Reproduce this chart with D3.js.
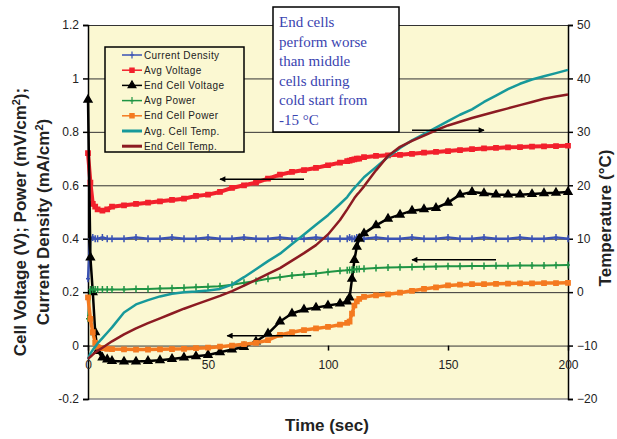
<!DOCTYPE html>
<html>
<head>
<meta charset="utf-8">
<script src="https://cdn.jsdelivr.net/npm/d3@7"></script>
<style>
  body { margin: 0; background: #fff; }
  text { font-family: "Liberation Sans", Arial, sans-serif; }
</style>
</head>
<body>
<svg id="chart" width="617" height="439"></svg>
<script>
// ------------------------------------------------------
// DATA
// ------------------------------------------------------

var time = [0, 1, 2, 3, 4, 6, 8, 10,
    15, 20, 25, 30, 35, 40, 45, 50, 55, 60, 65, 70, 75, 80, 85, 90, 95, 100, 105,
    108, 109, 110, 111, 112, 113,
    115, 120, 125, 130, 135, 140, 145, 150, 155, 160, 165, 170, 175, 180, 185, 190, 195, 200];

var currentDensity = [0.25, 0.40, 0.405, 0.40, 0.40, 0.405, 0.40, 0.40,
    0.40, 0.405, 0.40, 0.40, 0.405, 0.40, 0.40, 0.405, 0.40, 0.40, 0.405, 0.40, 0.40, 0.405, 0.40, 0.40, 0.405, 0.40, 0.40,
    0.40, 0.405, 0.40, 0.40, 0.405, 0.40,
    0.40, 0.405, 0.40, 0.40, 0.405, 0.40, 0.40, 0.405, 0.40, 0.40, 0.405, 0.40, 0.40, 0.405, 0.40, 0.40, 0.405, 0.40];

var avgVoltage = [0.72, 0.61, 0.53, 0.52, 0.51, 0.505, 0.51, 0.52,
    0.525, 0.53, 0.535, 0.54, 0.545, 0.55, 0.56, 0.565, 0.575, 0.59, 0.60, 0.61, 0.625, 0.64, 0.65, 0.657, 0.665, 0.675, 0.685,
    0.69, 0.692, 0.695, 0.697, 0.70, 0.70,
    0.705, 0.71, 0.712, 0.714, 0.718, 0.722, 0.725, 0.728, 0.732, 0.735, 0.738, 0.74, 0.742, 0.743, 0.745, 0.746, 0.747, 0.748];

var endCellVoltage = [0.92, 0.33, 0.20, 0.05, -0.02, -0.045, -0.052, -0.058,
    -0.06, -0.06, -0.058, -0.055, -0.05, -0.045, -0.04, -0.035, -0.025, -0.015, -0.005, 0.015, 0.045, 0.09, 0.12, 0.135, 0.142, 0.15, 0.157,
    0.165, 0.18, 0.25, 0.32, 0.37, 0.40,
    0.42, 0.45, 0.475, 0.49, 0.505, 0.51, 0.515, 0.535, 0.565, 0.575, 0.57, 0.565, 0.565, 0.565, 0.567, 0.57, 0.572, 0.575];

var avgPower = [0.10, 0.21, 0.21, 0.21, 0.21, 0.21, 0.21, 0.21,
    0.21, 0.212, 0.212, 0.214, 0.215, 0.216, 0.218, 0.22, 0.222, 0.228, 0.235, 0.242, 0.25, 0.256, 0.262, 0.266, 0.27, 0.275, 0.28,
    0.282, 0.283, 0.284, 0.285, 0.286, 0.287,
    0.288, 0.29, 0.292, 0.293, 0.294, 0.295, 0.296, 0.297, 0.297, 0.298, 0.298, 0.299, 0.299, 0.30, 0.30, 0.30, 0.301, 0.302];

var endCellPower = [0.18, 0.10, 0.05, 0.01, -0.005, -0.01, -0.012, -0.013,
    -0.014, -0.015, -0.015, -0.014, -0.013, -0.012, -0.01, -0.008, -0.004, 0.0, 0.005, 0.01, 0.02, 0.04, 0.05, 0.058, 0.064, 0.07, 0.078,
    0.085, 0.09, 0.12, 0.15, 0.165, 0.175,
    0.182, 0.188, 0.192, 0.198, 0.205, 0.212, 0.218, 0.225, 0.228, 0.23, 0.23, 0.231, 0.232, 0.233, 0.233, 0.234, 0.234, 0.235];

// temperatures in °C, right axis
var avgCellTemp = [-12.5, -11.5, -10.8, -10.2, -9.6, -8.6, -7.6, -6.6,
    -3.8, -2.3, -1.5, -0.8, -0.3, 0, 0.1, 0.3, 0.6, 1.4, 2.8, 4.3, 5.8, 7.2, 9, 10.8, 12.6, 14.4, 16.5,
    17.8, 18.4, 19, 19.5, 20, 20.5,
    21.5, 23.4, 25.3, 27, 28.4, 29.6, 30.8, 32, 33.2, 34.2, 35.6, 36.8, 38, 39, 39.8, 40.4, 41, 41.6];

var endCellTemp = [-12.5, -12.1, -11.7, -11.3, -11.0, -10.4, -9.8, -9.2,
    -7.9, -6.8, -5.8, -4.9, -4.0, -3.1, -2.3, -1.5, -0.7, 0.2, 1.2, 2.3, 3.4, 4.5, 5.9, 7.3, 8.8, 10.8, 13.5,
    15.5, 16.2, 16.9, 17.6, 18.2, 18.7,
    19.8, 22.8, 25.5, 27.2, 28.3, 29.3, 30.3, 31.2, 31.9, 32.6, 33.2, 33.8, 34.4, 35.0, 35.6, 36.2, 36.6, 37.0];

var leftTicks = [-0.2, 0, 0.2, 0.4, 0.6, 0.8, 1, 1.2];
var rightTicks = [-20, -10, 0, 10, 20, 30, 40, 50];
var timeTicks = [0, 50, 100, 150, 200];

var noteLines = ["End cells", "perform worse", "than middle", "cells during", "cold start from", "-15 \u00b0C"];

// arrows in chart units: from t0 to t1 at value v (left axis)
var arrows = [
    {t0: 90, t1: 55, v: 0.623},
    {t0: 135, t1: 165, v: 0.806},
    {t0: 170, t1: 135, v: 0.321},
    {t0: 93, t1: 58, v: 0.037}
];

// ------------------------------------------------------
// SETUP
// ------------------------------------------------------

var svg = d3.select("#chart");
var plotLeft = 88, plotRight = 568, plotTop = 25, plotBottom = 399;
var bg = "#fbf8d2";

var x = d3.scaleLinear().domain([0, 200]).range([plotLeft, plotRight]);
var yL = d3.scaleLinear().domain([-0.2, 1.2]).range([plotBottom, plotTop]);
var yR = d3.scaleLinear().domain([-20, 50]).range([plotBottom, plotTop]);

var series = [
    {name: "Current Density", values: currentDensity, color: "#3a52b4", width: 2.5, marker: "plus", axis: yL},
    {name: "Avg Voltage", values: avgVoltage, color: "#f2202c", width: 4, marker: "square", axis: yL},
    {name: "End Cell Voltage", values: endCellVoltage, color: "#000", width: 2.5, marker: "triangle", axis: yL},
    {name: "Avg Power", values: avgPower, color: "#1f9444", width: 2, marker: "plus", axis: yL},
    {name: "End Cell Power", values: endCellPower, color: "#f47a20", width: 3.5, marker: "square", axis: yL},
    {name: "Avg. Cell Temp.", values: avgCellTemp, color: "#17999a", width: 2.5, marker: null, axis: yR},
    {name: "End Cell Temp.", values: endCellTemp, color: "#8c1b22", width: 2.5, marker: null, axis: yR}
];

// plot background
svg.append("rect")
    .attr("x", plotLeft).attr("y", plotTop)
    .attr("width", plotRight - plotLeft).attr("height", plotBottom - plotTop)
    .attr("fill", bg);

// gridlines
svg.append("g")
    .attr("transform", "translate(" + plotLeft + ",0)")
    .call(d3.axisLeft(yL).tickValues(leftTicks.slice(1)).tickSize(-(plotRight - plotLeft)).tickFormat(""))
    .call(function (g) { g.select(".domain").remove(); })
    .selectAll("line").attr("stroke", "#333").attr("stroke-width", 1);

// bottom border
svg.append("line")
    .attr("x1", plotLeft).attr("x2", plotRight).attr("y1", plotBottom).attr("y2", plotBottom)
    .attr("stroke", "#888").attr("stroke-width", 1.5);

// ------------------------------------------------------
// AXES
// ------------------------------------------------------

function fmtLeft(d) { return String(+d.toFixed(1)); }

var axL = svg.append("g")
    .attr("transform", "translate(" + plotLeft + ",0)")
    .call(d3.axisLeft(yL).tickValues(leftTicks).tickSize(5).tickPadding(4).tickFormat(fmtLeft));

var axR = svg.append("g")
    .attr("transform", "translate(" + plotRight + ",0)")
    .call(d3.axisRight(yR).tickValues(rightTicks).tickSize(5).tickPadding(4).tickFormat(d3.format("d")));

var axX = svg.append("g")
    .attr("transform", "translate(0," + yL(0) + ")")
    .call(d3.axisBottom(x).tickValues(timeTicks).tickSize(5).tickPadding(10).tickFormat(d3.format("d")));
axX.select(".domain").remove();

[axL, axR, axX].forEach(function (a) {
    a.selectAll("text").attr("font-size", 12).attr("fill", "#222");
    a.selectAll("line").attr("stroke", "#000").attr("stroke-width", 1.5);
    a.select(".domain").attr("stroke", "#000").attr("stroke-width", 1.5);
});

// ------------------------------------------------------
// SERIES
// ------------------------------------------------------

function markerPath(type) {
    if (type === "plus") return "M0,-3.5V3.5M-2,0H2";
    if (type === "triangle") return d3.symbol().type(d3.symbolTriangle).size(26)();
    if (type === "square") return d3.symbol().type(d3.symbolSquare).size(18)();
    return "";
}

series.forEach(function (s) {
    var line = d3.line()
        .x(function (d, i) { return x(time[i]); })
        .y(function (d) { return s.axis(d); });

    svg.append("path")
        .datum(s.values)
        .attr("d", line)
        .attr("fill", "none")
        .attr("stroke", s.color)
        .attr("stroke-width", s.width)
        .attr("stroke-linejoin", "round");

    if (s.marker) {
        svg.append("g").selectAll("path")
            .data(s.values)
            .join("path")
            .attr("transform", function (d, i) { return "translate(" + x(time[i]) + "," + s.axis(d) + ")"; })
            .attr("d", markerPath(s.marker))
            .attr("fill", s.color)
            .attr("stroke", s.color)
            .attr("stroke-width", 1.5);
    }
});

// ------------------------------------------------------
// ARROWS
// ------------------------------------------------------

svg.append("defs").append("marker")
    .attr("id", "head")
    .attr("viewBox", "0 0 10 10")
    .attr("refX", 9).attr("refY", 5)
    .attr("markerWidth", 7).attr("markerHeight", 6)
    .attr("markerUnits", "userSpaceOnUse")
    .attr("orient", "auto")
    .append("path")
    .attr("d", "M0,0L10,5L0,10Z")
    .attr("fill", "#000");

svg.append("g").selectAll("line")
    .data(arrows)
    .join("line")
    .attr("x1", function (d) { return x(d.t0); })
    .attr("x2", function (d) { return x(d.t1); })
    .attr("y1", function (d) { return yL(d.v); })
    .attr("y2", function (d) { return yL(d.v); })
    .attr("stroke", "#000")
    .attr("stroke-width", 1.5)
    .attr("marker-end", "url(#head)");

// ------------------------------------------------------
// LEGEND
// ------------------------------------------------------

var legend = svg.append("g").attr("transform", "translate(105,47)");
legend.append("rect")
    .attr("width", 139).attr("height", 105)
    .attr("fill", bg).attr("stroke", "#000").attr("stroke-width", 1.5);

series.forEach(function (s, i) {
    var ly = 8 + i * 15.2;
    var row = legend.append("g").attr("transform", "translate(0," + ly + ")");
    row.append("line")
        .attr("x1", 17).attr("x2", 37)
        .attr("stroke", s.color)
        .attr("stroke-width", s.marker ? 1.5 : 3);
    if (s.marker) {
        row.append("path")
            .attr("transform", "translate(27,0)")
            .attr("d", markerPath(s.marker))
            .attr("fill", s.color).attr("stroke", s.color).attr("stroke-width", 1.2);
    }
    row.append("text")
        .attr("x", 39).attr("y", 3.5)
        .attr("font-size", 10)
        .attr("letter-spacing", 0.4)
        .attr("fill", "#222")
        .text(s.name);
});

// ------------------------------------------------------
// NOTE BOX
// ------------------------------------------------------

var note = svg.append("g").attr("transform", "translate(273,7)");
note.append("rect")
    .attr("width", 126).attr("height", 125)
    .attr("fill", "#fff").attr("stroke", "#000").attr("stroke-width", 1.5);
note.selectAll("text")
    .data(noteLines)
    .join("text")
    .attr("x", 6)
    .attr("y", function (d, i) { return 20 + i * 19.5; })
    .style("font-family", "'Liberation Serif', 'DejaVu Serif', serif")
    .attr("font-size", 15)
    .attr("fill", "#3a44b0")
    .text(function (d) { return d; });

// ------------------------------------------------------
// AXIS TITLES
// ------------------------------------------------------

function title(txt, tx, ty, rot) {
    svg.append("text")
        .attr("transform", "translate(" + tx + "," + ty + ") rotate(" + rot + ")")
        .attr("text-anchor", "middle")
        .attr("font-size", 17)
        .attr("font-weight", "bold")
        .attr("fill", "#222")
        .text(txt);
}

var t1 = svg.append("text")
    .attr("transform", "translate(26,222) rotate(-90)")
    .attr("text-anchor", "middle")
    .attr("font-size", 17).attr("font-weight", "bold").attr("fill", "#222");
t1.append("tspan").text("Cell Voltage (V); Power (mV/cm");
t1.append("tspan").attr("dy", -6).attr("font-size", 11).text("2");
t1.append("tspan").attr("dy", 6).text(");");

var t2 = svg.append("text")
    .attr("transform", "translate(49,222) rotate(-90)")
    .attr("text-anchor", "middle")
    .attr("font-size", 17).attr("font-weight", "bold").attr("fill", "#222");
t2.append("tspan").text("Current Density (mA/cm");
t2.append("tspan").attr("dy", -6).attr("font-size", 11).text("2");
t2.append("tspan").attr("dy", 6).text(")");

title("Temperature (\u00b0C)", 611, 218, -90);
title("Time (sec)", 327, 431, 0);
</script>
</body>
</html>
